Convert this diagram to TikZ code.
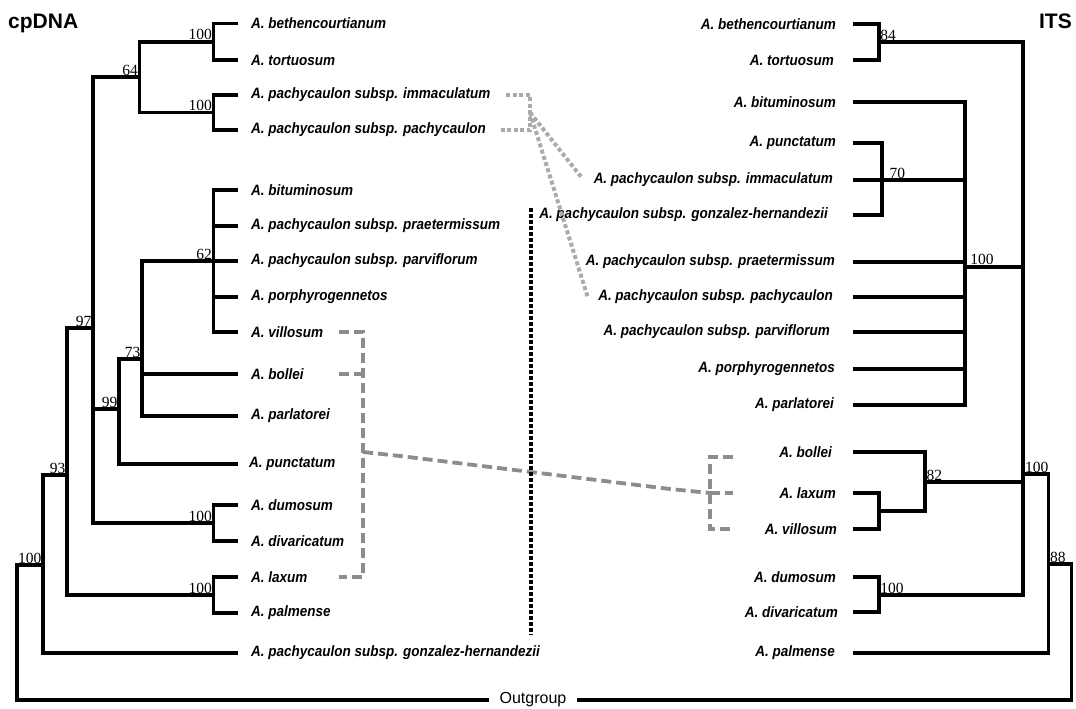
\documentclass[tikz,border=0pt]{standalone}
\usepackage{fontspec}
\setmainfont{Liberation Sans}
\newfontfamily\taxonfont[FakeStretch=0.9]{Liberation Sans}
\newfontfamily\bootfont{Liberation Serif}
\usepackage{tikz}

\begin{document}
\begin{tikzpicture}[x=1pt,y=-1pt,
  branch/.style={line width=3.8pt},
  taxL/.style={anchor=west,inner sep=0pt,font=\taxonfont\bfseries\itshape\fontsize{15}{17}\selectfont},
  taxR/.style={anchor=east,inner sep=0pt,font=\taxonfont\bfseries\itshape\fontsize{15}{17}\selectfont},
  bsL/.style={anchor=south east,inner sep=1.5pt,font=\bootfont\fontsize{15.5}{17}\selectfont},
  bsR/.style={anchor=south west,inner sep=1.5pt,font=\bootfont\fontsize{15.5}{17}\selectfont},
  title/.style={inner sep=0pt,font=\bfseries\fontsize{21}{24}\selectfont},
  linkdot/.style={draw=black!33,line width=4pt,dash pattern=on 4pt off 2.5pt},
  linkdash/.style={draw=black!45,line width=3.8pt,dash pattern=on 10pt off 5pt},
  sepline/.style={line width=3.8pt,dash pattern=on 3.5pt off 2.5pt}]
\useasboundingbox (0,0) rectangle (1076,709);

\node[title,anchor=base west] (tcp) at (8,29) {cpDNA};
\node[title,anchor=base east] (tits) at (1072,29) {ITS};

% cpDNA tree
\foreach \n/\y in {Beth/23.5,Tort/60,Imm/95,Pach/130,Bitu/190,Praet/226,Parv/261,Porph/297,Vill/332,Boll/374,Parl/416,Punct/464,Dum/505,Div/541,Lax/577,Palm/613,Gonz/653}
  \coordinate (t\n) at (238,\y);
\node[taxL] (lBeth) at (251,23.5) {A. bethencourtianum};
\node[taxL] (lTort) at (251,60) {A. tortuosum};
\node[taxL] (lImm) at (251,95) {A. pachycaulon subsp. immaculatum};
\node[taxL] (lPach) at (251,130) {A. pachycaulon subsp. pachycaulon};
\node[taxL] (lBitu) at (251,190) {A. bituminosum};
\node[taxL] (lPraet) at (251,226) {A. pachycaulon subsp. praetermissum};
\node[taxL] (lParv) at (251,261) {A. pachycaulon subsp. parviflorum};
\node[taxL] (lPorph) at (251,297) {A. porphyrogennetos};
\node[taxL] (lVill) at (251,332) {A. villosum};
\node[taxL] (lBoll) at (251,374) {A. bollei};
\node[taxL] (lParl) at (251,416) {A. parlatorei};
\node[taxL] (lPunct) at (249,464) {A. punctatum};
\node[taxL] (lDum) at (251,505) {A. dumosum};
\node[taxL] (lDiv) at (251,541) {A. divaricatum};
\node[taxL] (lLax) at (251,577) {A. laxum};
\node[taxL] (lPalm) at (251,613) {A. palmense};
\node[taxL] (lGonz) at (251,653) {A. pachycaulon subsp. gonzalez-hernandezii};

\coordinate (nBT) at (213.5,41.7);
\coordinate (nIP) at (213.5,112.5);
\coordinate (n64) at (139.5,77.3);
\coordinate (n62) at (213.5,261);
\coordinate (n73) at (142,359);
\coordinate (n99) at (119,409);
\coordinate (nDD) at (213.5,523);
\coordinate (n97) at (93,328);
\coordinate (nLP) at (213.5,595);
\coordinate (n93) at (67,475);
\coordinate (nRoot) at (43,565);
\coordinate (cOL) at (17,565);

\draw[branch] (nBT) |- (tBeth) (nBT) |- (tTort);
\draw[branch] (nIP) |- (tImm) (nIP) |- (tPach);
\draw[branch] (n64) |- (nBT) (n64) |- (nIP);
\foreach \t in {Bitu,Praet,Parv,Porph,Vill}
  \draw[branch] (n62) |- (t\t);
\draw[branch] (n73) |- (n62) (n73) |- (tBoll) (n73) |- (tParl);
\draw[branch] (n99) |- (n73) (n99) |- (tPunct);
\draw[branch] (nDD) |- (tDum) (nDD) |- (tDiv);
\draw[branch] (n97) |- (n64) (n97) |- (n99) (n97) |- (nDD);
\draw[branch] (nLP) |- (tLax) (nLP) |- (tPalm);
\draw[branch] (n93) |- (n97) (n93) |- (nLP);
\draw[branch] (nRoot) |- (n93) (nRoot) |- (tGonz);

\node[bsL] (bBT) at (nBT) {100};
\node[bsL] (bIP) at (nIP) {100};
\node[bsL] (b64) at (n64) {64};
\node[bsL] (b62) at (n62) {62};
\node[bsL] (b73) at (n73) {73};
\node[bsL] (b99) at (n99) {99};
\node[bsL] (b97) at (n97) {97};
\node[bsL] (bDD) at (nDD) {100};
\node[bsL] (bLP) at (nLP) {100};
\node[bsL] (b93) at (n93) {93};
\node[bsL] (bRoot) at (nRoot) {100};

% ITS tree
\foreach \n/\y in {Beth/24,Tort/60,Bitu/102,Punct/143,Imm/180,Gonz/215,Praet/262,Pach/297,Parv/332,Porph/369,Parl/405,Boll/452,Lax/493,Vill/529,Dum/577,Div/612,Palm/653}
  \coordinate (r\n) at (852.8,\y);
\node[taxR] (mlBeth) at (836,24) {A. bethencourtianum};
\node[taxR] (mlTort) at (834,60) {A. tortuosum};
\node[taxR] (mlBitu) at (836,102) {A. bituminosum};
\node[taxR] (mlPunct) at (836,143) {A. punctatum};
\node[taxR] (mlImm) at (833,180) {A. pachycaulon subsp. immaculatum};
\node[taxR] (mlGonz) at (828,215) {A. pachycaulon subsp. gonzalez-hernandezii};
\node[taxR] (mlPraet) at (835,262) {A. pachycaulon subsp. praetermissum};
\node[taxR] (mlPach) at (833,297) {A. pachycaulon subsp. pachycaulon};
\node[taxR] (mlParv) at (830,332) {A. pachycaulon subsp. parviflorum};
\node[taxR] (mlPorph) at (835,369) {A. porphyrogennetos};
\node[taxR] (mlParl) at (834,405) {A. parlatorei};
\node[taxR] (mlBoll) at (832,452) {A. bollei};
\node[taxR] (mlLax) at (836,493) {A. laxum};
\node[taxR] (mlVill) at (837,529) {A. villosum};
\node[taxR] (mlDum) at (836,577) {A. dumosum};
\node[taxR] (mlDiv) at (838,612) {A. divaricatum};
\node[taxR] (mlPalm) at (835,653) {A. palmense};

\coordinate (m84) at (878.6,42);
\coordinate (m70) at (882,180);
\coordinate (m100) at (964.7,266.7);
\coordinate (mLV) at (878.6,511);
\coordinate (m82) at (925,482);
\coordinate (mDD) at (878.6,595);
\coordinate (mTop) at (1023.3,474.3);
\coordinate (m88) at (1048.4,564);
\coordinate (cOR) at (1071.5,564);

\draw[branch] (m84) |- (rBeth) (m84) |- (rTort);
\draw[branch] (m70) |- (rPunct) (m70) |- (rImm) (m70) |- (rGonz);
\foreach \t in {Bitu,Praet,Pach,Parv,Porph,Parl}
  \draw[branch] (m100) |- (r\t);
\draw[branch] (m100) |- (m70);
\draw[branch] (mLV) |- (rLax) (mLV) |- (rVill);
\draw[branch] (m82) |- (rBoll) (m82) |- (mLV);
\draw[branch] (mDD) |- (rDum) (mDD) |- (rDiv);
\draw[branch] (mTop) |- (m84) (mTop) |- (m100) (mTop) |- (m82) (mTop) |- (mDD);
\draw[branch] (m88) |- (mTop) (m88) |- (rPalm);

\node[bsR] (c84) at (m84) {84};
\node[bsR,xshift=6pt] (c70) at (m70) {70};
\node[bsR,xshift=4pt] (c100) at (m100) {100};
\node[bsR] (c82) at (m82) {82};
\node[bsR] (cDD) at (mDD) {100};
\node[bsR] (cTop) at (mTop) {100};
\node[bsR] (c88) at (m88) {88};

% outgroup
\node[inner xsep=10pt,inner ysep=0pt,font=\fontsize{16}{18}\selectfont] (og) at (533,700) {Outgroup};
\draw[branch] (og.west) -| (cOL) -- (nRoot);
\draw[branch] (og.east) -| (cOR) -- (m88);

% links between the trees
\coordinate (gA) at (506,95);
\coordinate (gM) at (530,112.5);
\coordinate (gD) at (500,130);
\coordinate (gE) at (582,178);
\coordinate (gF) at (588,298);
\draw[linkdot] (gA) -| (gM) |- (gD);
\draw[linkdot] (gM) -- (gE);
\draw[linkdot] (gM) -- (gF);

\coordinate (hA) at (339,332);
\coordinate (hB) at (339,374);
\coordinate (hB2) at (363,374);
\coordinate (hC) at (339,577);
\coordinate (hM) at (363,452);
\coordinate (hK1) at (400,456);
\coordinate (hK2) at (670,489);
\coordinate (kM) at (710,493);
\coordinate (kA) at (733,457);
\coordinate (kB) at (733,493);
\coordinate (kC) at (733,529);
\draw[linkdash] (hA) -| (hM) |- (hC);
\draw[linkdash] (hB) -- (hB2);
\draw[linkdash] (hM) -- (hK1) -- (hK2) -- (kM);
\draw[linkdash] (kA) -| (kM) |- (kC);
\draw[linkdash] (kM) -- (kB);

\coordinate (sTop) at (531,208);
\coordinate (sBot) at (531,635);
\draw[sepline] (sTop) -- (sBot);
\end{tikzpicture}
\end{document}
